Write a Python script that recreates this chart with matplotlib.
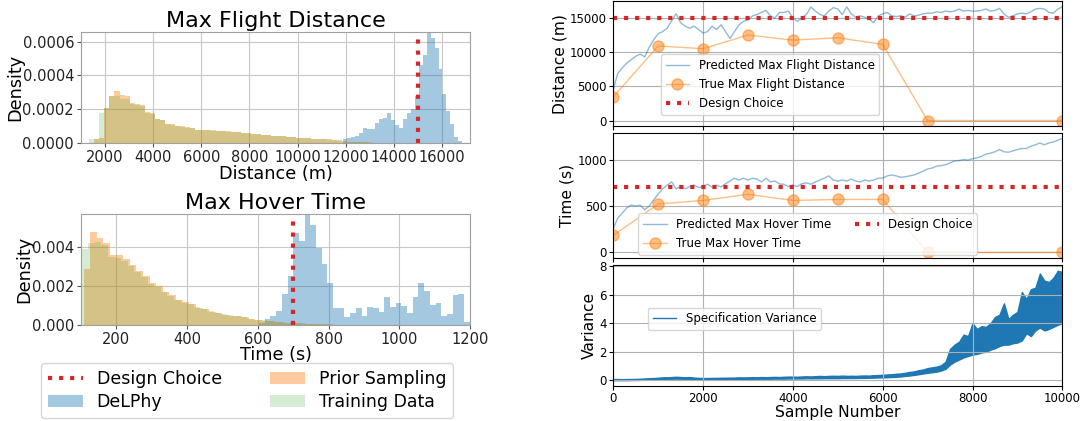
import numpy as np
import matplotlib
matplotlib.use("Agg")
import matplotlib.pyplot as plt
from matplotlib.ticker import FormatStrFormatter

# ---- left: histograms (densities) ----
# Max Flight Distance
dist_delphy_start, dist_delphy_width = 11900, 165
dist_delphy = [0.2, 0.3, 0.35, 0.4, 0.55, 0.85, 0.8, 0.8, 1.2, 1.4,
               1.45, 1.75, 1.35, 1.05, 0.85, 1.4, 1.75, 2.0, 2.8, 4.6,
               5.2, 6.6, 6.2, 5.6, 4.4, 2.9, 1.9, 1.1, 0.35, 0.1]
dist_prior_start, dist_prior_width = 1550, 210
dist_prior = [0.2, 0.3, 2.05, 2.8, 3.1, 2.85, 2.8, 2.35, 2.3, 2.25,
              1.8, 1.75, 1.4, 1.35, 1.1, 1.1, 1.0, 1.0, 0.92, 0.9,
              0.78, 0.76, 0.75, 0.74, 0.72, 0.7, 0.68, 0.66, 0.64, 0.6,
              0.58, 0.52, 0.5, 0.48, 0.45, 0.42, 0.4, 0.38, 0.36, 0.33,
              0.3, 0.29, 0.27, 0.25, 0.24, 0.22, 0.2, 0.18, 0.15, 0.1,
              0.06, 0.05, 0.04, 0.03, 0.02]
dist_train_start, dist_train_width = 1340, 210
dist_train = [0.25, 0.25, 1.75, 2.05, 2.75, 2.75, 2.6, 2.6, 2.3, 2.25,
              2.2, 1.75, 1.7, 1.4, 1.35, 1.1, 1.05, 1.0, 0.95, 0.9,
              0.85, 0.78, 0.75, 0.74, 0.72, 0.7, 0.68, 0.66, 0.64, 0.62,
              0.58, 0.55, 0.52, 0.5, 0.47, 0.44, 0.42, 0.4, 0.37, 0.35,
              0.33, 0.3, 0.28, 0.27, 0.25, 0.23, 0.21, 0.18, 0.15, 0.1,
              0.06, 0.05, 0.04, 0.03, 0.02]

# Max Hover Time
hover_delphy_start, hover_delphy_width = 603.5, 16.1
hover_delphy = [0.1, 0.3, 0.46, 0.7, 1.57, 2.5, 4.7, 4.3, 5.6, 5.1,
                3.95, 3.1, 2.13, 0.89, 0.85, 0.43, 0.63, 0.89, 0.46, 0.94,
                0.85, 0.68, 1.43, 0.94, 1.1, 0.99, 0.63, 1.45, 2.16, 1.74,
                1.02, 1.1, 0.48, 0.55, 1.53, 1.57, 0.17]
hover_prior_start, hover_prior_width = 107, 18.7
hover_prior = [2.86, 4.77, 4.46, 4.17, 3.58, 3.58, 3.37, 3.07, 2.78, 2.52,
               2.13, 2.0, 1.67, 1.53, 1.28, 1.16, 1.07, 0.85, 0.8, 0.65,
               0.6, 0.52, 0.48, 0.45, 0.4, 0.3, 0.26, 0.22, 0.2, 0.16,
               0.12, 0.1, 0.08, 0.06, 0.05, 0.04, 0.03, 0.02]
hover_train_start, hover_train_width = 101, 18.7
hover_train = [3.9, 4.2, 4.26, 4.1, 3.5, 3.45, 3.25, 3.0, 2.7, 2.45,
               2.1, 1.95, 1.7, 1.5, 1.3, 1.15, 1.05, 0.9, 0.8, 0.7,
               0.62, 0.55, 0.5, 0.45, 0.4, 0.33, 0.28, 0.24, 0.2, 0.17,
               0.14, 0.12, 0.1, 0.08, 0.06, 0.05, 0.04, 0.03, 0.02, 0.015,
               0.01, 0.01, 0.005]

design_distance = 15000
design_hover = 700

# ---- right: learning curves ----
pred_samples = np.arange(0, 10001, 100)
pred_distance = [4500, 6900, 7700, 8400, 8900, 9400, 9700, 9300, 10700, 11800,
                 12700, 13000, 13500, 14600, 15600, 14300, 13800, 13500, 13800, 13300,
                 12800, 13000, 13800, 13300, 14000, 13000, 12000, 13000, 14000, 14500,
                 14700, 15300, 15500, 15800, 16100, 15300, 15000, 15800, 15800, 16000,
                 15000, 14500, 15000, 15500, 16600, 16000, 15500, 15300, 16000, 16500,
                 16300, 15500, 16600, 15600, 15100, 15300, 15100, 14800, 14300, 15300,
                 15600, 15800, 15300, 15200, 15300, 15100, 15600, 15300, 15400, 15600,
                 15700, 15700, 15900, 15800, 16000, 15900, 16000, 16300, 16000, 16100,
                 16000, 16000, 16100, 16300, 16000, 16100, 16400, 15600, 15100, 15300,
                 15600, 15700, 15600, 15900, 16300, 16400, 16300, 15800, 15700, 16300,
                 16600]
pred_hover = [257, 370, 425, 480, 510, 500, 510, 460, 500, 565,
              630, 685, 725, 760, 685, 710, 685, 710, 725, 700,
              710, 735, 705, 725, 705, 740, 770, 800, 780, 800,
              780, 800, 790, 760, 800, 760, 770, 740, 735, 710,
              725, 710, 740, 750, 735, 760, 780, 800, 825, 780,
              770, 780, 770, 790, 770, 760, 780, 770, 780, 800,
              800, 825, 835, 825, 810, 815, 825, 835, 855, 875,
              900, 910, 930, 935, 945, 965, 985, 990, 1000, 995,
              1010, 1020, 1035, 1060, 1070, 1085, 1110, 1085, 1080, 1095,
              1110, 1120, 1120, 1145, 1160, 1180, 1160, 1180, 1190, 1210,
              1230]
true_samples = [0, 1000, 2000, 3000, 4000, 5000, 6000, 7000, 10000]
true_distance = [3450, 10900, 10500, 12500, 11750, 12100, 11130, 0, 0]
true_hover = [183, 522, 560, 627, 560, 571, 571, 0, 0]

# specification variance: upper / lower edge of the noisy band, every 100 samples
var_samples = np.arange(0, 10001, 100)
var_upper = [0.08, 0.08, 0.07, 0.08, 0.08, 0.09, 0.1, 0.12, 0.14, 0.15,
             0.17, 0.2, 0.2, 0.22, 0.24, 0.22, 0.2, 0.22, 0.18, 0.16,
             0.15, 0.15, 0.16, 0.16, 0.17, 0.17, 0.18, 0.18, 0.2, 0.19,
             0.2, 0.21, 0.2, 0.22, 0.21, 0.22, 0.23, 0.22, 0.24, 0.25,
             0.25, 0.24, 0.26, 0.27, 0.26, 0.28, 0.3, 0.28, 0.3, 0.31,
             0.3, 0.32, 0.3, 0.31, 0.3, 0.32, 0.33, 0.32, 0.35, 0.36,
             0.38, 0.4, 0.42, 0.45, 0.47, 0.52, 0.58, 0.62, 0.7, 0.75,
             0.85, 0.9, 0.95, 1.05, 1.3, 2.2, 2.5, 2.7, 3.2, 3.1,
             4.0, 3.6, 3.8, 3.75, 4.0, 4.45, 4.6, 5.4, 4.3, 4.6,
             4.8, 6.2, 5.7, 6.4, 6.5, 7.5, 7.0, 6.9, 7.2, 7.7,
             7.6]
var_lower = [0.0, 0.0, 0.0, 0.0, 0.01, 0.01, 0.02, 0.04, 0.05, 0.06,
             0.08, 0.09, 0.1, 0.1, 0.11, 0.1, 0.1, 0.09, 0.08, 0.07,
             0.06, 0.06, 0.06, 0.07, 0.07, 0.07, 0.08, 0.08, 0.08, 0.09,
             0.09, 0.09, 0.1, 0.1, 0.1, 0.1, 0.11, 0.11, 0.11, 0.12,
             0.12, 0.12, 0.12, 0.13, 0.13, 0.13, 0.13, 0.14, 0.14, 0.14,
             0.14, 0.15, 0.15, 0.15, 0.15, 0.16, 0.16, 0.17, 0.18, 0.19,
             0.2, 0.21, 0.22, 0.24, 0.26, 0.3, 0.33, 0.37, 0.42, 0.47,
             0.52, 0.56, 0.6, 0.68, 0.8, 1.1, 1.3, 1.45, 1.6, 1.7,
             1.8, 1.85, 1.95, 2.0, 2.15, 2.25, 2.4, 2.5, 2.5, 2.6,
             2.65, 2.8, 3.3, 3.1, 3.5, 3.7, 3.5, 3.6, 3.75, 3.9,
             4.0]


def edges(start, width, vals):
    return start + width * np.arange(len(vals) + 1)


fig = plt.figure(figsize=(10.82, 4.21), dpi=100)

BLUE, ORANGE, GREEN, RED = 'tab:blue', 'tab:orange', 'tab:green', 'tab:red'


def style_left(ax):
    ax.grid(True, color='#c8c8c8', linewidth=0.8)
    ax.set_axisbelow(True)
    for s in ax.spines.values():
        s.set_color('#a0a0a0')
    ax.tick_params(labelsize=10.5, colors='#555555', labelcolor='#222222', length=3, pad=2)


ax1 = fig.add_axes([0.0749, 0.661, 0.3595, 0.2622])
ax1.stairs(np.array(dist_delphy) * 1e-4, edges(dist_delphy_start, dist_delphy_width, dist_delphy),
           fill=True, color=BLUE, alpha=0.4, label='DeLPhy')
ax1.stairs(np.array(dist_prior) * 1e-4, edges(dist_prior_start, dist_prior_width, dist_prior),
           fill=True, color=ORANGE, alpha=0.4, label='Prior Sampling')
ax1.stairs(np.array(dist_train) * 1e-4, edges(dist_train_start, dist_train_width, dist_train),
           fill=True, color=GREEN, alpha=0.2, label='Training Data')
ax1.axvline(design_distance, ymax=0.95, color=RED, linestyle=':', linewidth=3, label='Design Choice')
ax1.set_xlim(1000, 17170)
ax1.set_ylim(0, 0.000656)
ax1.set_xticks(range(2000, 16001, 2000))
ax1.set_yticks([0, 0.0002, 0.0004, 0.0006])
ax1.yaxis.set_major_formatter(FormatStrFormatter('%.4f'))
ax1.set_title('Max Flight Distance', fontsize=16, pad=4)
ax1.set_xlabel('Distance (m)', fontsize=12.7, labelpad=0)
ax1.set_ylabel('Density', fontsize=12.7, labelpad=-1)
style_left(ax1)

ax2 = fig.add_axes([0.0749, 0.228, 0.3595, 0.263])
ax2.stairs(np.array(hover_delphy) * 1e-3, edges(hover_delphy_start, hover_delphy_width, hover_delphy),
           fill=True, color=BLUE, alpha=0.4)
ax2.stairs(np.array(hover_prior) * 1e-3, edges(hover_prior_start, hover_prior_width, hover_prior),
           fill=True, color=ORANGE, alpha=0.4)
ax2.stairs(np.array(hover_train) * 1e-3, edges(hover_train_start, hover_train_width, hover_train),
           fill=True, color=GREEN, alpha=0.2)
ax2.axvline(design_hover, ymax=0.95, color=RED, linestyle=':', linewidth=3)
ax2.set_xlim(100, 1200)
ax2.set_ylim(0, 0.00566)
ax2.set_xticks(range(200, 1201, 200))
ax2.set_yticks([0, 0.002, 0.004])
ax2.yaxis.set_major_formatter(FormatStrFormatter('%.3f'))
ax2.set_title('Max Hover Time', fontsize=16, pad=4)
ax2.set_xlabel('Time (s)', fontsize=12.7, labelpad=-1)
ax2.set_ylabel('Density', fontsize=12.7, labelpad=-1)
style_left(ax2)

h, l = ax1.get_legend_handles_labels()
order = [l.index(n) for n in ['Design Choice', 'DeLPhy', 'Prior Sampling', 'Training Data']]
fig.legend([h[i] for i in order], [l[i] for i in order], ncol=2, fontsize=12.5,
           loc='lower center', bbox_to_anchor=(0.2285, -0.002), columnspacing=2.8,
           handlelength=2.0, borderaxespad=0.2, labelspacing=0.3)

# ---- right panels ----
L, W = 0.5668, 0.415
r1 = fig.add_axes([L, 0.7002, W, 0.2967])
r2 = fig.add_axes([L, 0.3869, W, 0.2981], sharex=r1)
r3 = fig.add_axes([L, 0.0840, W, 0.2860], sharex=r1)

r1.plot(pred_samples, pred_distance, color=BLUE, alpha=0.5, linewidth=1, label='Predicted Max Flight Distance')
r1.plot(true_samples, true_distance, 'o-', color=ORANGE, alpha=0.5, markersize=8, linewidth=1,
        label='True Max Flight Distance')
r1.axhline(design_distance, color=RED, linestyle=':', linewidth=3, label='Design Choice')
r1.set_ylabel('Distance (m)', fontsize=11.2, labelpad=2)
r1.legend(loc='lower left', bbox_to_anchor=(0.106, 0.092), fontsize=8.5, borderaxespad=0)

r2.plot(pred_samples, pred_hover, color=BLUE, alpha=0.5, linewidth=1, label='Predicted Max Hover Time')
r2.plot(true_samples, true_hover, 'o-', color=ORANGE, alpha=0.5, markersize=8, linewidth=1,
        label='True Max Hover Time')
r2.axhline(design_hover, color=RED, linestyle=':', linewidth=3, label='Design Choice')
r2.set_ylabel('Time (s)', fontsize=11.2, labelpad=2)
r2.legend(loc='lower left', bbox_to_anchor=(0.056, 0.027), fontsize=8.5, ncol=2, borderaxespad=0)

r3.fill_between(var_samples, var_lower, var_upper, color=BLUE, linewidth=1, edgecolor=BLUE)
r3.plot([], [], color=BLUE, linewidth=1, label='Specification Variance')
r3.set_ylabel('Variance', fontsize=11.2, labelpad=2)
r3.set_xlabel('Sample Number', fontsize=11.2, labelpad=0)
r3.legend(loc='lower left', bbox_to_anchor=(0.077, 0.461), fontsize=8.5, borderaxespad=0)
r3.set_xlim(0, 10000)
r3.set_yticks([0, 2, 4, 6, 8])

for ax in (r1, r2, r3):
    ax.grid(True)
    ax.tick_params(labelsize=8.5, length=3, pad=1.5)
for ax in (r1, r2):
    ax.tick_params(labelbottom=False)

fig.savefig('out.png', dpi=100)
